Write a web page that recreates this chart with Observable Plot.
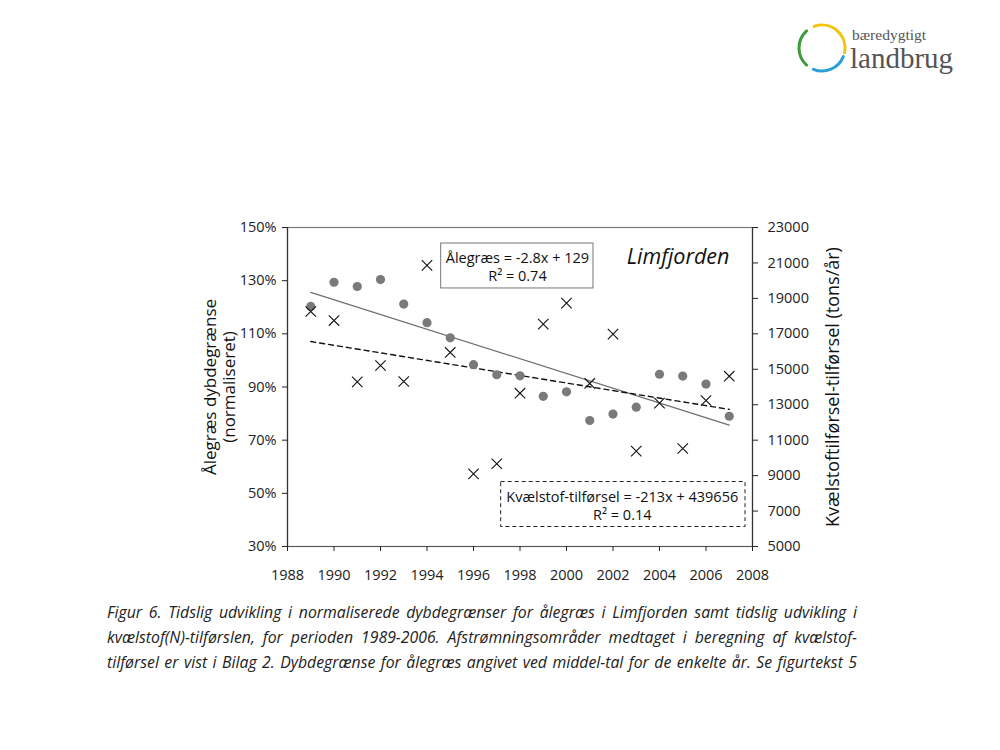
<!DOCTYPE html>
<html>
<head>
<meta charset="utf-8">
<script src="https://cdn.jsdelivr.net/npm/d3@7"></script>
<script src="https://cdn.jsdelivr.net/npm/@observablehq/plot@0.6"></script>
<style>
  html, body { margin: 0; padding: 0; background: #fff; }
  #page { position: relative; width: 1000px; height: 750px; overflow: hidden; background: #fff; }
  #chart { position: absolute; left: 0; top: 0; }
  #logo { position: absolute; left: 790px; top: 18px; width: 190px; height: 70px; }
  #caption { position: absolute; left: 107px; top: 600px; width: 750px;
    font-family: "Open Sans", sans-serif; font-style: italic; font-size: 15.8px; color: #222; line-height: 25px; }
  #caption div { text-align: justify; text-align-last: justify; white-space: nowrap; }
</style>
</head>
<body>
<div id="page">
  <div id="chart"></div>
  <svg id="logo" width="190" height="70" viewBox="790 18 190 70">
    <g fill="none" stroke-width="3" stroke-linecap="round">
      <path id="arcG" stroke="#3a9c3a"></path>
      <path id="arcY" stroke="#f2c40c"></path>
      <path id="arcB" stroke="#2c9fd6"></path>
    </g>
    <text x="852" y="40" font-family="Liberation Serif, DejaVu Serif, serif" font-size="15.5" fill="#555">bæredygtigt</text>
    <text x="850" y="68" font-family="Liberation Serif, DejaVu Serif, serif" font-size="29" fill="#555">landbrug</text>
  </svg>
  <div id="caption">
    <div>Figur 6. Tidslig udvikling i normaliserede dybdegrænser for ålegræs i Limfjorden samt tidslig udvikling i</div>
    <div>kvælstof(N)-tilførslen, for perioden 1989-2006. Afstrømningsområder medtaget i beregning af kvælstof-</div>
    <div>tilførsel er vist i Bilag 2. Dybdegrænse for ålegræs angivet ved middel-tal for de enkelte år. Se figurtekst 5</div>
  </div>
</div>
<script>
// ---- data ----
const years = [1989, 1990, 1991, 1992, 1993, 1994, 1995, 1996, 1997, 1998,
               1999, 2000, 2001, 2002, 2003, 2004, 2005, 2006, 2007];
// Ålegræs dybdegrænse (normaliseret, %)
const aalegraes = [120.3, 129.4, 127.8, 130.4, 121.2, 114.2, 108.5, 98.4, 94.6, 94.2,
                   86.5, 88.2, 77.4, 79.8, 82.4, 94.8, 94.1, 91.1, 79.0];
// Kvælstof-tilførsel (tons/år)
const kvaelstof = [18260, 17750, 14290, 15214, 14310, 20860, 15950, 9100, 9670, 13650,
                   17545, 18730, 14200, 16980, 10380, 13090, 10530, 13240, 14610];
const xTicks = [1988, 1990, 1992, 1994, 1996, 1998, 2000, 2002, 2004, 2006, 2008];
const leftTicks = [30, 50, 70, 90, 110, 130, 150];
const rightTicks = [5000, 7000, 9000, 11000, 13000, 15000, 17000, 19000, 21000, 23000];
const eqAalegraes = "Ålegræs = -2.8x + 129\nR² = 0.74";
const eqKvaelstof = "Kvælstof-tilførsel = -213x + 439656\nR² = 0.14";
const placeLabel = "Limfjorden";
const leftTitle = "Ålegræs dybdegrænse\n(normaliseret)";
const rightTitle = "Kvælstoftilførsel-tilførsel (tons/år)";

// ---- mapping of right axis onto left scale ----
const leftDomain = [30, 150];
const rightDomain = [5000, 23000];
const toLeft = v => leftDomain[0] + (v - rightDomain[0]) / (rightDomain[1] - rightDomain[0]) * (leftDomain[1] - leftDomain[0]);
const fromLeft = p => rightDomain[0] + (p - leftDomain[0]) / (leftDomain[1] - leftDomain[0]) * (rightDomain[1] - rightDomain[0]);

const aalData = years.map((year, i) => ({year, v: aalegraes[i]}));
const kvData = years.map((year, i) => ({year, n: kvaelstof[i]}));

const font = "Open Sans, sans-serif";

const chart = Plot.plot({
  width: 1000,
  height: 600,
  marginLeft: 287,
  marginRight: 248,
  marginTop: 227,
  marginBottom: 54,
  style: {fontFamily: font, fontSize: "14px", color: "#222", background: "transparent"},
  x: {domain: [1988, 2008], label: null},
  y: {domain: leftDomain, label: null},
  marks: [
    Plot.frame({stroke: "#777", strokeWidth: 1.2}),
    Plot.ruleX([1988], {stroke: "#333", strokeWidth: 1.2}),
    Plot.ruleX([2008], {stroke: "#333", strokeWidth: 1.2}),
    Plot.ruleY([30], {stroke: "#555", strokeWidth: 1.2}),
    Plot.axisX({ticks: xTicks, tickFormat: d => String(d), tickSize: 5, tickPadding: 18, label: null, fontSize: 14.5}),
    Plot.axisY({ticks: leftTicks, tickFormat: d => d + "%", tickSize: 5, tickPadding: 6, label: null, fontSize: 14.5}),
    Plot.axisY({anchor: "right", ticks: rightTicks.map(toLeft), tickFormat: d => String(Math.round(fromLeft(d))),
                tickSize: 5, tickPadding: 10, label: null, fontSize: 14.5}),
    // trend lines
    Plot.linearRegressionY(aalData, {x: "year", y: "v", stroke: "#6f6f6f", strokeWidth: 1.2, ci: 0}),
    Plot.linearRegressionY(kvData, {x: "year", y: d => toLeft(d.n), stroke: "#111", strokeWidth: 1.4,
                                    strokeDasharray: "5,4", ci: 0}),
    // points
    Plot.dot(aalData, {x: "year", y: "v", r: 4.6, fill: "#7a7a7a", stroke: "none"}),
    Plot.dot(kvData, {x: "year", y: d => toLeft(d.n), symbol: "times", r: 4.8, stroke: "#111", strokeWidth: 1.1}),
    // equation boxes
    Plot.rect([eqAalegraes], {x1: 1994.61, x2: 2001.16, y1: 127.07, y2: 143.98, fill: "white", stroke: "#777", strokeWidth: 1}),
    Plot.text([eqAalegraes], {x: 1997.89, y: 135.6, text: d => d, fontSize: 14.5, lineHeight: 1.25, fill: "#111"}),
    Plot.rect([eqKvaelstof], {x1: 1997.19, x2: 2007.7, y1: 37.33, y2: 54.25, fill: "white", stroke: "#222",
                              strokeWidth: 1, strokeDasharray: "4,3"}),
    Plot.text([eqKvaelstof], {x: 2002.4, y: 45.4, text: d => d, fontSize: 14.5, lineHeight: 1.25, fill: "#111"}),
    Plot.text([placeLabel], {x: 2004.8, y: 138.7, text: d => d, fontSize: 21.5, fontStyle: "italic", fill: "#111"}),
    // axis titles
    Plot.text([leftTitle], {frameAnchor: "left", textAnchor: "middle", text: d => d, rotate: -90, dx: -68,
                            fontSize: 17, lineHeight: 1.08, fill: "#111"}),
    Plot.text([rightTitle], {frameAnchor: "right", textAnchor: "middle", text: d => d, rotate: -90, dx: 81,
                             fontSize: 18, fill: "#111"})
  ]
});
document.getElementById("chart").appendChild(chart);

// logo arcs
function arc(cx, cy, r, a0, a1) {
  const p = a => [cx + r * Math.cos(a * Math.PI / 180), cy + r * Math.sin(a * Math.PI / 180)];
  const [x0, y0] = p(a0), [x1, y1] = p(a1);
  const large = (a1 - a0) > 180 ? 1 : 0;
  return `M${x0},${y0} A${r},${r} 0 ${large} 1 ${x1},${y1}`;
}
document.getElementById("arcG").setAttribute("d", arc(822, 48, 23, 132, 228));
document.getElementById("arcY").setAttribute("d", arc(822, 48, 23, 250, 372));
document.getElementById("arcB").setAttribute("d", arc(822, 48, 23, 22, 112));
</script>
</body>
</html>
